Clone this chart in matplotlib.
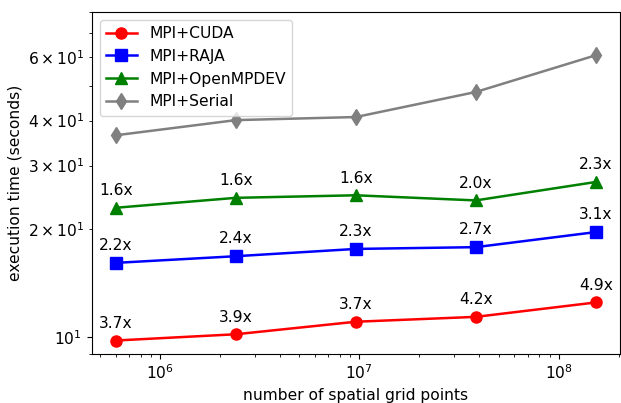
import matplotlib
matplotlib.use('Agg')
import matplotlib.pyplot as plt

grid_points = [6.0e5, 2.4e6, 9.6e6, 3.84e7, 1.536e8]

t_cuda = [9.8, 10.2, 11.05, 11.4, 12.5]
t_raja = [16.1, 16.8, 17.6, 17.8, 19.6]
t_ompdev = [22.9, 24.4, 24.8, 24.0, 27.0]
t_serial = [36.4, 40.1, 40.9, 48.0, 60.7]

sp_cuda = ['3.7x', '3.9x', '3.7x', '4.2x', '4.9x']
sp_raja = ['2.2x', '2.4x', '2.3x', '2.7x', '3.1x']
sp_ompdev = ['1.6x', '1.6x', '1.6x', '2.0x', '2.3x']

plt.rcParams['font.size'] = 11.2

fig = plt.figure(figsize=(6.21, 4.03), dpi=100)
ax = fig.add_subplot(111)
fig.subplots_adjust(left=0.148, right=0.998, top=0.970, bottom=0.122)

ax.plot(grid_points, t_cuda, color='red', marker='o', markersize=8, linewidth=1.8, label='MPI+CUDA')
ax.plot(grid_points, t_raja, color='blue', marker='s', markersize=8, linewidth=1.8, label='MPI+RAJA')
ax.plot(grid_points, t_ompdev, color='green', marker='^', markersize=8, linewidth=1.8, label='MPI+OpenMPDEV')
ax.plot(grid_points, t_serial, color='gray', marker='d', markersize=8, linewidth=1.8, label='MPI+Serial')

# speedup labels above each point
for times, labels in [(t_cuda, sp_cuda), (t_raja, sp_raja), (t_ompdev, sp_ompdev)]:
    for x, y, s in zip(grid_points, times, labels):
        ax.annotate(s, (x, y), xytext=(0, 7), textcoords='offset points',
                    ha='center', va='bottom')

ax.set_xscale('log')
ax.set_yscale('log')
ax.set_ylim(9.0, 80)
ax.set_xlabel('number of spatial grid points')
ax.set_ylabel('execution time (seconds)')
ax.legend(loc='upper left')

fig.savefig('out.png', dpi=100)
